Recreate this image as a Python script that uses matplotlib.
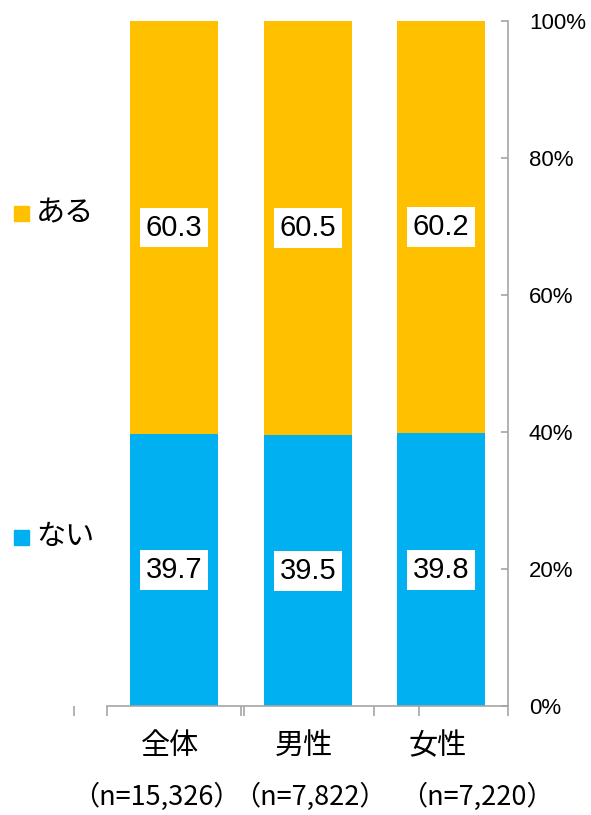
import matplotlib
matplotlib.use("Agg")
import matplotlib.pyplot as plt
from matplotlib.patches import Rectangle
import numpy as np

# Survey result: share answering "ある" / "ない" by group (%)
categories = ["全体", "男性", "女性"]
sample_sizes = ["15,326", "7,822", "7,220"]
nai = [39.7, 39.5, 39.8]
aru = [60.3, 60.5, 60.2]
y_ticks = [0, 20, 40, 60, 80, 100]

BLUE = "#00B0F0"
ORANGE = "#FFC000"
AXIS_GREY = "#A6A6A6"
JP_FONT = ["Noto Sans CJK JP", "DejaVu Sans"]
NUM_FONT = ["Liberation Sans", "DejaVu Sans"]

fig = plt.figure(figsize=(5.91, 8.15), dpi=100)
ax = fig.add_axes([74 / 591, 0.1337, 434 / 591, 0.8405])

x = np.arange(len(categories))
width = 0.66
ax.bar(x, nai, width, color=BLUE, zorder=2)
ax.bar(x, aru, width, bottom=nai, color=ORANGE, zorder=2)

# value labels in white boxes, centred on each segment
for xi, lo, hi in zip(x, nai, aru):
    for val, mid in ((lo, lo / 2), (hi, lo + hi / 2)):
        ax.text(xi, mid, f"{val:.1f}", ha="center", va="center",
                fontsize=21, family=NUM_FONT, zorder=3,
                bbox=dict(boxstyle="square,pad=0.2", fc="white", ec="none"))

ax.set_xlim(-0.75, 2.5)
ax.set_ylim(0, 100)

# right-hand percentage axis
ax.yaxis.tick_right()
ax.set_yticks(y_ticks)
ax.set_yticklabels([f"{v}%" for v in y_ticks], family=NUM_FONT, fontsize=16)
ax.tick_params(axis="y", direction="in", length=5, color=AXIS_GREY,
               width=1.2, pad=15)

ax.set_xticks([-0.75, -0.5, 0.5, 0.52, 1.5, 1.83, 2.5])
ax.set_xticklabels([])
ax.tick_params(axis="x", direction="out", length=7, color=AXIS_GREY, width=1.2)

for side in ("top", "left"):
    ax.spines[side].set_visible(False)
ax.spines["right"].set_color(AXIS_GREY)
ax.spines["right"].set_linewidth(1.2)
ax.spines["bottom"].set_color(AXIS_GREY)
ax.spines["bottom"].set_linewidth(1.2)
ax.spines["bottom"].set_bounds(-0.5, 2.5)

# category names below the axis, sample sizes on the row underneath
for xi, name in zip(x, categories):
    ax.text(xi - 0.03, -5.8, name, ha="center", va="center",
            fontsize=21, family=JP_FONT)
for xn, n in zip((-0.13, 1.02, 2.27), sample_sizes):
    ax.text(xn, -13.3, f"（n={n}）", ha="center", va="center",
            fontsize=19.5, family=JP_FONT, clip_on=False)

# legend on the left, level with each segment
for label, colour, y_px in (("ある", ORANGE, 213), ("ない", BLUE, 537)):
    yf = 1 - y_px / 815
    fig.add_artist(Rectangle((14 / 591, yf - 8 / 815), 15 / 591, 15 / 815,
                             transform=fig.transFigure, color=colour))
    fig.text(36 / 591, yf, label, ha="left", va="center",
             fontsize=21, family=JP_FONT)

fig.savefig("out.png", dpi=100)
